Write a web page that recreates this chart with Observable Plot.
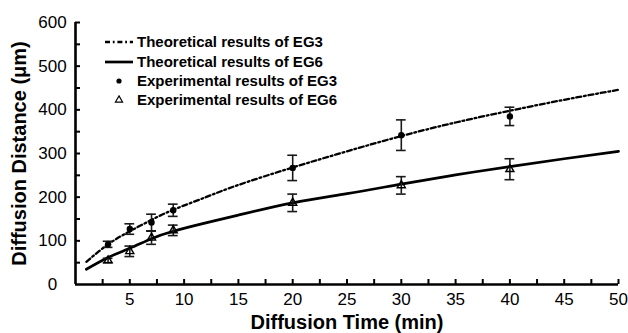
<!DOCTYPE html>
<html>
<head>
<meta charset="utf-8">
<script src="https://cdn.jsdelivr.net/npm/d3@7"></script>
<script src="https://cdn.jsdelivr.net/npm/@observablehq/plot@0.6"></script>
<style>
  html, body { margin: 0; padding: 0; background: #fff; }
  #chart svg { font-family: "Liberation Sans", Arial, Helvetica, sans-serif; }
</style>
</head>
<body>
<div id="chart"></div>
<script>
// ---- data ----
const theoryTime = [1, 3, 5, 7, 9, 12, 15, 20, 25, 30, 35, 40, 45, 50];
const theoryEG3  = [52, 92, 122, 148, 171, 200, 228, 268, 305, 340, 371, 398, 423, 446];
const theoryEG6  = [35, 62, 83, 105, 122, 141, 159, 187, 208, 230, 251, 270, 288, 305];

const expTime = [3, 5, 7, 9, 20, 30, 40];
const expEG3  = [92, 127, 142, 170, 267, 342, 385];
const errEG3  = [7, 12, 19, 14, 29, 35, 21];
const expEG6  = [55, 76, 107, 124, 187, 227, 264];
const errEG6  = [5, 12, 15, 12, 20, 20, 24];

const xTickLabels = [5, 10, 15, 20, 25, 30, 35, 40, 45, 50];
const xTickMarks  = d3.range(2.5, 50.01, 2.5);
const yTickLabels = [0, 100, 200, 300, 400, 500, 600];
const yTickMarks  = d3.range(50, 600.01, 50);

const legendLabels = [
  "Theoretical results of EG3",
  "Theoretical results of EG6",
  "Experimental results of EG3",
  "Experimental results of EG6"
];
const xLabel = "Diffusion Time (min)";
const yLabel = "Diffusion Distance (\u03bcm)";

// ---- tables ----
const th3 = theoryTime.map((t, i) => ({t, v: theoryEG3[i]}));
const th6 = theoryTime.map((t, i) => ({t, v: theoryEG6[i]}));
const ex3 = expTime.map((t, i) => ({t, v: expEG3[i], lo: expEG3[i] - errEG3[i], hi: expEG3[i] + errEG3[i]}));
const ex6 = expTime.map((t, i) => ({t, v: expEG6[i], lo: expEG6[i] - errEG6[i], hi: expEG6[i] + errEG6[i]}));

const dashDot = "5,2.8,1.8,2.8";
const capHalf = 0.45; // half cap width in minutes
function errorBars(data) {
  return [
    Plot.ruleX(data, {x: "t", y1: "lo", y2: "hi", stroke: "#1a1a1a", strokeWidth: 1.6}),
    Plot.ruleY(data, {y: "lo", x1: d => d.t - capHalf, x2: d => d.t + capHalf, stroke: "#1a1a1a", strokeWidth: 1.6}),
    Plot.ruleY(data, {y: "hi", x1: d => d.t - capHalf, x2: d => d.t + capHalf, stroke: "#1a1a1a", strokeWidth: 1.6})
  ];
}

const chart = Plot.plot({
  width: 628,
  height: 333,
  marginLeft: 75,
  marginRight: 10,
  marginTop: 22,
  marginBottom: 49,
  style: {fontFamily: "Liberation Sans, Arial, sans-serif", color: "#000", background: "#fff"},
  x: {domain: [0, 50]},
  y: {domain: [0, 600]},
  marks: [
    // tick labels
    Plot.axisX(xTickLabels, {tickSize: 0, tickPadding: 8.5, fontSize: 17, label: null}),
    Plot.axisY(yTickLabels, {tickSize: 0, tickPadding: 23, textAnchor: "middle", fontSize: 17, label: null}),
    // inward tick marks
    Plot.axisX(xTickMarks, {tickSize: -5, tickFormat: () => "", strokeWidth: 2, label: null}),
    Plot.axisY(yTickMarks, {tickSize: -5, tickFormat: () => "", strokeWidth: 2, label: null}),
    // axis lines
    Plot.ruleY([0], {strokeWidth: 2.6, stroke: "#000"}),
    Plot.ruleX([0], {strokeWidth: 2.6, stroke: "#000"}),
    // theoretical curves
    Plot.line(th3, {x: "t", y: "v", curve: "natural", stroke: "#000", strokeWidth: 2.3, strokeDasharray: dashDot}),
    Plot.line(th6, {x: "t", y: "v", curve: "natural", stroke: "#000", strokeWidth: 2.7}),
    // experimental
    ...errorBars(ex3),
    ...errorBars(ex6),
    Plot.dot(ex3, {x: "t", y: "v", r: 3.2, fill: "#000", stroke: "none"}),
    Plot.dot(ex6, {x: "t", y: "v", r: 3, symbol: "triangle", fill: "none", stroke: "#000", strokeWidth: 1.4}),
    // axis titles
    Plot.text([xLabel], {frameAnchor: "bottom", textAnchor: "middle", lineAnchor: "middle", dy: 38.5, fontSize: 20, fontWeight: "bold", fill: "#000"}),
    Plot.text([yLabel], {frameAnchor: "left", textAnchor: "middle", lineAnchor: "middle", dx: -56, rotate: -90, fontSize: 20, fontWeight: "bold", fill: "#000"})
  ]
});

document.getElementById("chart").appendChild(chart);

// ---- legend (inside the plot area, top-left) ----
const svg = d3.select(chart);
const lg = svg.append("g").attr("font-family", "Liberation Sans, Arial, sans-serif")
  .attr("font-size", 15).attr("font-weight", "bold").attr("text-anchor", "start");
const rows = [42, 62, 81, 100];
lg.append("line").attr("x1", 105).attr("x2", 133).attr("y1", rows[0]).attr("y2", rows[0])
  .attr("stroke", "#000").attr("stroke-width", 2.3).attr("stroke-dasharray", dashDot);
lg.append("line").attr("x1", 105).attr("x2", 133).attr("y1", rows[1]).attr("y2", rows[1])
  .attr("stroke", "#000").attr("stroke-width", 2.7);
lg.append("circle").attr("cx", 119).attr("cy", rows[2]).attr("r", 2.6).attr("fill", "#000");
lg.append("path").attr("transform", `translate(119,${rows[3]})`)
  .attr("d", d3.symbol(d3.symbolTriangle, 22)()).attr("fill", "none").attr("stroke", "#000").attr("stroke-width", 1.2);
legendLabels.forEach((s, i) => {
  lg.append("text").attr("x", 137).attr("y", rows[i]).attr("dy", "0.36em")
    .attr("text-anchor", "start").attr("fill", "#000").text(s);
});
</script>
</body>
</html>
